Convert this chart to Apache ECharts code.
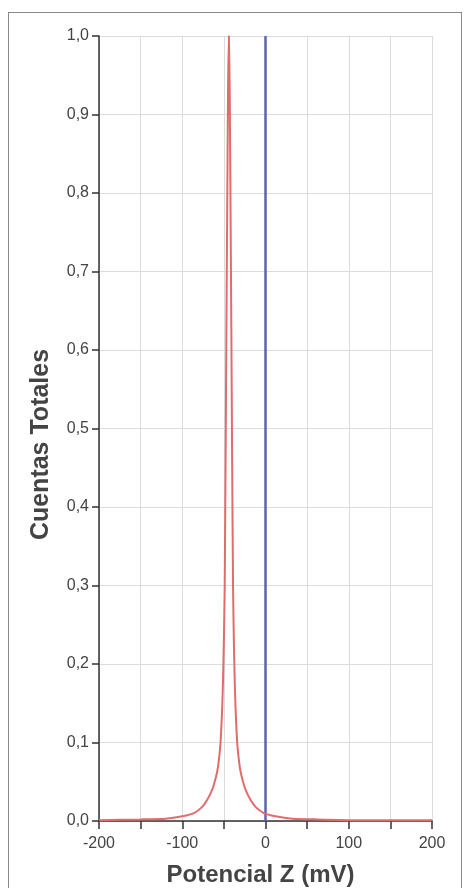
<!DOCTYPE html>
<html>
<head>
<meta charset="utf-8">
<script src="https://cdn.jsdelivr.net/npm/echarts@6/dist/echarts.min.js"></script>
<style>
  html, body { margin: 0; padding: 0; background: #fff; }
  #frame {
    position: absolute; left: 8px; top: 12px; width: 454px; height: 890px;
    border: 1px solid #8a8a8a; box-sizing: border-box;
  }
  #chart { position: absolute; left: 0; top: 0; width: 464px; height: 888px; }
</style>
</head>
<body>
<div id="frame"></div>
<div id="chart"></div>
<script>
// Potencial Z (mV) vs. cuentas normalizadas
const zeta = [-200, -150, -120, -100, -86, -76, -70, -64, -61, -58, -56, -54, -52, -51, -50, -49, -48, -47, -46, -45, -44,
  -43, -42, -41, -40, -39, -38, -37, -36, -34, -32, -30, -27, -24, -18, -12, -2, 12, 32, 62, 112, 200]
const cuentas = [0.001, 0.002, 0.003, 0.006, 0.010, 0.018, 0.027, 0.040, 0.050, 0.063, 0.078, 0.100, 0.145, 0.180, 0.230, 0.300, 0.450, 0.620, 0.780, 0.930, 1.000,
  0.930, 0.780, 0.620, 0.450, 0.300, 0.230, 0.180, 0.145, 0.100, 0.078, 0.063, 0.050, 0.040, 0.027, 0.018, 0.010, 0.006, 0.003, 0.002, 0.001, 0.001]

// línea de referencia en 0 mV
const refX = [0, 0]
const refY = [0, 1]

const xTicks = [-200, -100, 0, 100, 200]

const chart = echarts.init(document.getElementById('chart'))

const option = {
  animation: false,
  textStyle: { fontFamily: 'Liberation Sans, Arial, sans-serif' },
  grid: { left: 99, right: 32, top: 36, bottom: 67, outerBoundsMode: 'none', containLabel: false },
  xAxis: {
    type: 'value',
    min: -200,
    max: 200,
    interval: 50,
    name: 'Potencial Z (mV)',
    nameLocation: 'middle',
    nameGap: 42,
    nameTextStyle: { fontSize: 24, fontWeight: 'bold', color: '#444', padding: [0, 10, 0, 0] },
    axisLine: { onZero: false, lineStyle: { color: '#333', width: 1.5 } },
    axisTick: { length: 8, lineStyle: { color: '#333', width: 1.5 } },
    axisLabel: {
      fontSize: 16,
      color: '#444',
      margin: 15,
      formatter: (v) => xTicks.includes(v) ? String(v) : ''
    },
    splitLine: { show: true, lineStyle: { color: '#dcdcdc' } }
  },
  yAxis: {
    type: 'value',
    min: 0,
    max: 1,
    interval: 0.1,
    name: 'Cuentas Totales',
    nameLocation: 'middle',
    nameGap: 45,
    nameTextStyle: { fontSize: 25, fontWeight: 'bold', color: '#444', padding: [0, 32, 0, 0] },
    axisLine: { show: true, onZero: false, lineStyle: { color: '#333', width: 1.5 } },
    axisTick: { show: true, length: 7, lineStyle: { color: '#333', width: 1.5 } },
    axisLabel: {
      fontSize: 16,
      color: '#444',
      margin: 10,
      formatter: (v) => v.toFixed(1).replace('.', ',')
    },
    splitLine: { show: true, lineStyle: { color: '#dcdcdc' } }
  },
  series: [
    {
      type: 'line',
      data: refX.map((x, i) => [x, refY[i]]),
      symbol: 'none',
      lineStyle: { color: '#5c63b4', width: 2.5 },
      z: 2
    },
    {
      type: 'line',
      data: zeta.map((x, i) => [x, cuentas[i]]),
      symbol: 'none',
      smooth: 0.2,
      lineStyle: { color: '#e06c6c', width: 2 },
      z: 3
    }
  ]
}

chart.setOption(option)
window.addEventListener('resize', () => chart.resize())
</script>
</body>
</html>
